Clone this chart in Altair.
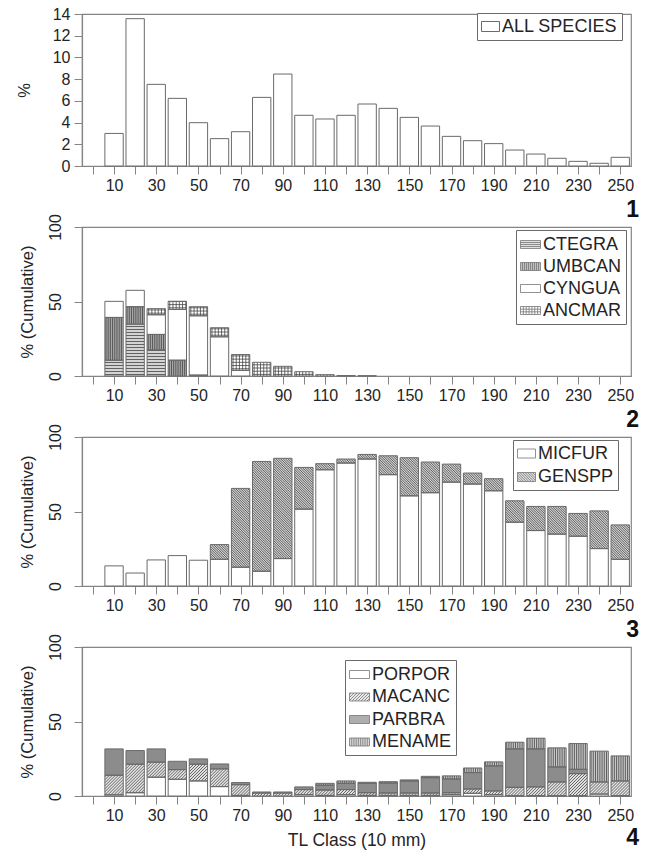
import altair as alt
import pandas as pd

# ---------------------------------------------------------------- data
classes = [10, 20, 30, 40, 50, 60, 70, 80, 90, 100, 110, 120, 130,
           140, 150, 160, 170, 180, 190, 200, 210, 220, 230, 240, 250]
tick_values = [0] + classes

all_species = [3.0, 13.57, 7.52, 6.23, 3.99, 2.52, 3.16, 6.32, 8.47, 4.67,
               4.33, 4.67, 5.71, 5.31, 4.48, 3.68, 2.73, 2.33, 2.06, 1.47,
               1.1, 0.71, 0.43, 0.25, 0.8]

ctegra = [10.6, 34.8, 17.5, 0, 0, 0, 0, 0, 0, 0, 0, 0, 0,
          0, 0, 0, 0, 0, 0, 0, 0, 0, 0, 0, 0]
umbcan = [28.7, 11.7, 10.4, 10.6, 0.6, 0, 0, 0, 0, 0, 0, 0, 0,
          0, 0, 0, 0, 0, 0, 0, 0, 0, 0, 0, 0]
cyngua = [10.8, 11.0, 13.2, 34.1, 39.8, 26.3, 3.8, 0, 0, 0, 0, 0, 0,
          0, 0, 0, 0, 0, 0, 0, 0, 0, 0, 0, 0]
ancmar = [0, 0, 4.1, 5.4, 6.1, 6.1, 10.6, 9.2, 6.5, 2.9, 0.9, 0.3, 0.2,
          0, 0, 0, 0, 0, 0, 0, 0, 0, 0, 0, 0]

micfur = [13.5, 8.7, 17.5, 20.4, 17.3, 17.9, 12.6, 9.9, 18.4, 51.6, 78.0,
          82.5, 85.2, 74.7, 60.5, 62.6, 69.7, 68.4, 63.9, 42.8, 37.2, 34.8,
          33.4, 25.1, 17.9]
genspp = [0, 0, 0, 0, 0, 9.9, 52.9, 73.7, 67.3, 28.0, 4.1, 2.7, 3.1, 12.7,
          25.6, 20.6, 12.1, 7.4, 8.1, 14.4, 16.2, 18.6, 15.3, 25.3, 23.1]

porpor = [0.8, 2.2, 12.6, 11.2, 10.1, 6.3, 0.4, 0, 0, 0.9, 0.4, 0.9, 0.4,
          0.4, 0.4, 0.4, 0.9, 1.8, 0.9, 0.2, 0.2, 0.2, 0.2, 1.3, 0.2]
macanc = [13.1, 19.1, 10.1, 6.5, 11.2, 11.9, 7.2, 2.0, 2.0, 3.4, 3.6, 3.4,
          1.8, 1.6, 1.6, 1.6, 1.3, 2.9, 2.5, 5.6, 5.9, 9.2, 14.8, 8.1, 9.9]
parbra = [17.7, 9.2, 8.9, 5.6, 3.6, 3.3, 1.4, 0.7, 0.7, 1.8, 3.2, 4.2, 6.3,
          6.7, 8.1, 10.3, 9.2, 11.0, 16.8, 25.8, 25.5, 10.1, 2.9, 0, 0]
mename = [0, 0, 0, 0, 0, 0, 0, 0, 0, 0, 1.3, 1.6, 0.7, 0.9, 0.7, 0.9, 2.1,
          3.1, 2.7, 4.5, 7.2, 12.8, 17.3, 20.7, 16.8]

# ---------------------------------------------------------------- style
FONT = "Liberation Sans"
TXT = "#242424"
GRID = "#858585"
EDGE = "#6a6a6a"
INK = "#3c3c3c"
LEG_FS = 18

X_MIN, X_MAX = -5.2, 255.1
PLOT_W = 549
KX = PLOT_W / (X_MAX - X_MIN)   # px per x unit
HALF = 4.35                      # half bar width (x units)
BAR_W_PX = 2 * HALF * KX

x_scale = alt.Scale(domain=[X_MIN, X_MAX], nice=False, zero=False)


def x_axis(title):
    return alt.Axis(
        values=tick_values,
        labelExpr="datum.value % 20 == 10 ? datum.label : ''",
        labelOverlap=False, labelFlush=False, grid=False,
        tickSize=8, tickColor=GRID, domainColor=GRID, domainWidth=1.2,
        labelFont=FONT, labelFontSize=16, labelColor=TXT, labelPadding=3,
        title=title, titleFont=FONT, titleFontSize=17.5, titleFontWeight="normal",
        titleColor=TXT, titlePadding=8,
    )


def y_axis(values, title, rotated, title_pad):
    kw = dict(labelAngle=270, labelAlign="center", labelBaseline="bottom",
              labelPadding=11) if rotated else dict(labelAngle=0, labelPadding=4)
    return alt.Axis(
        values=values, grid=False, tickSize=8, tickColor=GRID,
        domainColor=GRID, domainWidth=1.2, labelFont=FONT, labelFontSize=16,
        labelColor=TXT, title=title, titleFont=FONT, titleFontSize=16.5,
        titleFontWeight="normal", titleColor=TXT, titlePadding=title_pad,
        **kw,
    )


def panel_title(num, offset):
    return alt.TitleParams(text=num, orient="bottom", anchor="end",
                           frame="group", font=FONT, fontSize=23,
                           fontWeight="bold", color="#111", offset=offset,
                           dx=8)


# legend swatch paths, drawn in a [-1, 1] box
def f(v):
    return f"{v:.3f}".rstrip("0").rstrip(".")


def sw_rect(r):
    return f"M-1,{f(-r)}H1V{f(r)}H-1Z"


def sw_hlines(r, n):
    return "".join(f"M-1,{f(-r + 2 * r * k / (n + 1))}H1" for k in range(1, n + 1))


def sw_vlines(r, n):
    return "".join(f"M{f(-1 + 2 * k / (n + 1))},{f(-r)}V{f(r)}" for k in range(1, n + 1))


def sw_diag(r, step, rising):
    out = []
    w, h = 2.0, 2 * r
    t = step / 2 - (h if rising else 0)
    end = w if rising else w + h
    while t < end:
        if rising:      # u - v = t, v measured upward
            u1, u2 = max(0, t), min(w, t + h)
            v1, v2 = u1 - t, u2 - t
        else:           # u + v = t
            u1, u2 = max(0, t - h), min(w, t)
            v1, v2 = t - u1, t - u2
        out.append(f"M{f(-1 + u1)},{f(r - v1)}L{f(-1 + u2)},{f(r - v2)}")
        t += step
    return "".join(out)


# ---------------------------------------------------------------- helpers
def long_table(series):
    rows = []
    for order, (name, vals) in enumerate(series):
        for c, v in zip(classes, vals):
            rows.append({"cls": c, "series": name, "value": v, "order": order})
    return pd.DataFrame(rows)


def stacked_base(df):
    return (
        alt.Chart(df)
        .transform_stack(stack="value", groupby=["cls"], as_=["y0", "y1"],
                         sort=[alt.SortField(field="order", order="ascending")])
        .transform_filter("datum.value > 0")
        .transform_calculate(xa=f"datum.cls - {HALF}", xb=f"datum.cls + {HALF}")
    )


def hatch(base, name, kind, step, ky, X, Y):
    c = base.transform_filter(f"datum.series == '{name}'").transform_calculate(
        h=f"(datum.y1 - datum.y0) * {ky}")
    rule = dict(color=INK, strokeWidth=0.75)
    w = BAR_W_PX
    if kind == "h":
        c = (c.transform_calculate(t=f"sequence({step / 2}, datum.h, {step})")
             .transform_flatten(["t"])
             .transform_calculate(yy=f"datum.y0 + datum.t / {ky}"))
        return c.mark_rule(**rule).encode(x=X("xa"), x2="xb:Q", y=Y("yy"))
    if kind == "v":
        c = (c.transform_calculate(t=f"sequence({step / 2}, {w}, {step})")
             .transform_flatten(["t"])
             .transform_calculate(xx=f"datum.xa + datum.t / {KX}"))
        return c.mark_rule(**rule).encode(x=X("xx"), y=Y("y0"), y2="y1:Q")
    if kind == "rise":
        c = (c.transform_calculate(t=f"sequence(-datum.h + {step / 2}, {w}, {step})")
             .transform_flatten(["t"])
             .transform_calculate(u1="max(0, datum.t)",
                                  u2=f"min({w}, datum.t + datum.h)"))
        c = c.transform_calculate(v1="datum.u1 - datum.t", v2="datum.u2 - datum.t")
    else:  # falling
        c = (c.transform_calculate(t=f"sequence({step / 2}, {w} + datum.h, {step})")
             .transform_flatten(["t"])
             .transform_calculate(u1="max(0, datum.t - datum.h)",
                                  u2=f"min({w}, datum.t)"))
        c = c.transform_calculate(v1="datum.t - datum.u1", v2="datum.t - datum.u2")
    c = c.transform_calculate(
        px1=f"datum.xa + datum.u1 / {KX}", px2=f"datum.xa + datum.u2 / {KX}",
        py1=f"datum.y0 + datum.v1 / {ky}", py2=f"datum.y0 + datum.v2 / {ky}")
    return c.mark_rule(**rule).encode(x=X("px1"), x2="px2:Q", y=Y("py1"), y2="py2:Q")


def stacked_panel(series, fills, swatches, patterns, height, xtitle, legend_xy,
                  sym_size, row_pad, num, num_offset):
    names = [s[0] for s in series]
    df = long_table(series)
    ky = height / 100.0
    xa = x_axis(xtitle)
    ya = y_axis([0, 50, 100], "% (Cumulative)", True, 12)
    ys = alt.Scale(domain=[0, 100], nice=False)

    def X(field):
        return alt.X(f"{field}:Q", scale=x_scale, axis=xa)

    def Y(field):
        return alt.Y(f"{field}:Q", scale=ys, axis=ya)

    legend = alt.Legend(
        title=None, orient="none", legendX=legend_xy[0], legendY=legend_xy[1],
        labelFont=FONT, labelFontSize=LEG_FS, labelColor=TXT, labelOffset=2,
        symbolSize=sym_size, symbolStrokeWidth=0.8, symbolStrokeColor=INK,
        strokeColor=EDGE, fillColor="white", padding=4, rowPadding=row_pad,
    )
    fill_scale = alt.Scale(domain=names, range=fills)
    shape_scale = alt.Scale(domain=names, range=swatches)

    base = stacked_base(df)
    bars = base.mark_rect(strokeWidth=0).encode(
        x=X("xa"), x2="xb:Q", y=Y("y0"), y2="y1:Q",
        fill=alt.Fill("series:N", scale=fill_scale, legend=legend))
    layers = [bars]
    for name, (kind, step) in patterns.items():
        kinds = ["h", "v"] if kind == "grid" else [kind]
        for k in kinds:
            layers.append(hatch(base, name, k, step, ky, X, Y))
    outline = base.mark_rect(fillOpacity=0, stroke=EDGE, strokeWidth=1).encode(
        x=X("xa"), x2="xb:Q", y=Y("y0"), y2="y1:Q")
    layers.append(outline)

    # key layer: carries the patterned swatches for the legend, draws nothing
    key = (alt.Chart(df)
           .mark_point(filled=True, size=0, stroke=INK, strokeWidth=0.8)
           .encode(fill=alt.Fill("series:N", scale=fill_scale, legend=legend),
                   shape=alt.Shape("series:N", scale=shape_scale, legend=legend)))
    layers.append(key)
    return alt.layer(*layers).properties(
        width=PLOT_W, height=height, title=panel_title(num, num_offset))


# ---------------------------------------------------------------- panel 1
df1 = pd.DataFrame({"cls": classes, "value": all_species,
                    "series": ["ALL SPECIES"] * len(classes)})
sw1 = sw_rect(0.556)
p1 = (
    alt.Chart(df1)
    .transform_calculate(xa=f"datum.cls - {HALF}", xb=f"datum.cls + {HALF}")
    .mark_rect(stroke=EDGE, strokeWidth=1)
    .encode(
        x=alt.X("xa:Q", scale=x_scale, axis=x_axis(None)),
        x2="xb:Q",
        y=alt.Y("value:Q", scale=alt.Scale(domain=[0, 14], nice=False),
                axis=y_axis(list(range(0, 15, 2)), "%", False, 20)),
        fill=alt.Fill("series:N",
                      scale=alt.Scale(domain=["ALL SPECIES"], range=["white"]),
                      legend=alt.Legend(
                          title=None, orient="none", legendX=395, legendY=-1,
                          labelFont=FONT, labelFontSize=LEG_FS, labelColor=TXT,
                          labelOffset=2, symbolType=sw1, symbolSize=324,
                          symbolStrokeColor=EDGE, symbolStrokeWidth=1,
                          strokeColor=EDGE, fillColor="white", padding=4)),
    )
    .properties(width=PLOT_W, height=152, title=panel_title("1", 6))
)

# ---------------------------------------------------------------- panels 2-4
r2 = 0.4
p2 = stacked_panel(
    [("CTEGRA", ctegra), ("UMBCAN", umbcan), ("CYNGUA", cyngua), ("ANCMAR", ancmar)],
    ["#d4d4d4", "#a8a8a8", "white", "white"],
    [sw_rect(r2) + sw_hlines(r2, 3), sw_rect(r2) + sw_vlines(r2, 9),
     sw_rect(r2), sw_rect(r2) + sw_hlines(r2, 2) + sw_vlines(r2, 6)],
    {"CTEGRA": ("h", 3.0), "UMBCAN": ("v", 2.2), "ANCMAR": ("grid", 3.2)},
    149, None, (434, 3), 400, 2, "2", 6,
)

r3 = 0.5
p3 = stacked_panel(
    [("MICFUR", micfur), ("GENSPP", genspp)],
    ["white", "#d0d0d0"],
    [sw_rect(r3), sw_rect(r3) + sw_diag(r3, 0.28, False)],
    {"GENSPP": ("fall", 2.4)},
    149, None, (431, 3), 324, 4.5, "3", 6,
)

p4 = stacked_panel(
    [("PORPOR", porpor), ("MACANC", macanc), ("PARBRA", parbra), ("MENAME", mename)],
    ["white", "#e2e2e2", "#8c8c8c", "#c8c8c8"],
    [sw_rect(r2), sw_rect(r2) + sw_diag(r2, 0.3, True), sw_rect(r2),
     sw_rect(r2) + sw_vlines(r2, 8)],
    {"MACANC": ("rise", 3.0), "MENAME": ("v", 2.2)},
    149, "TL Class (10 mm)", (263, 13), 400, 2.5, "4", -22,
)

chart = (
    alt.vconcat(p1, p2, p3, p4, spacing=61, bounds="flush")
    .resolve_scale(x="independent", y="independent", fill="independent",
                   shape="independent")
    .resolve_legend(fill="independent", shape="independent")
    .properties(padding={"left": 15, "top": 5, "right": 0, "bottom": 0},
                background="white")
    .configure_view(stroke=GRID, strokeWidth=1.2)
)

chart.save("out.html", embed_options={"renderer": "svg", "actions": False})
